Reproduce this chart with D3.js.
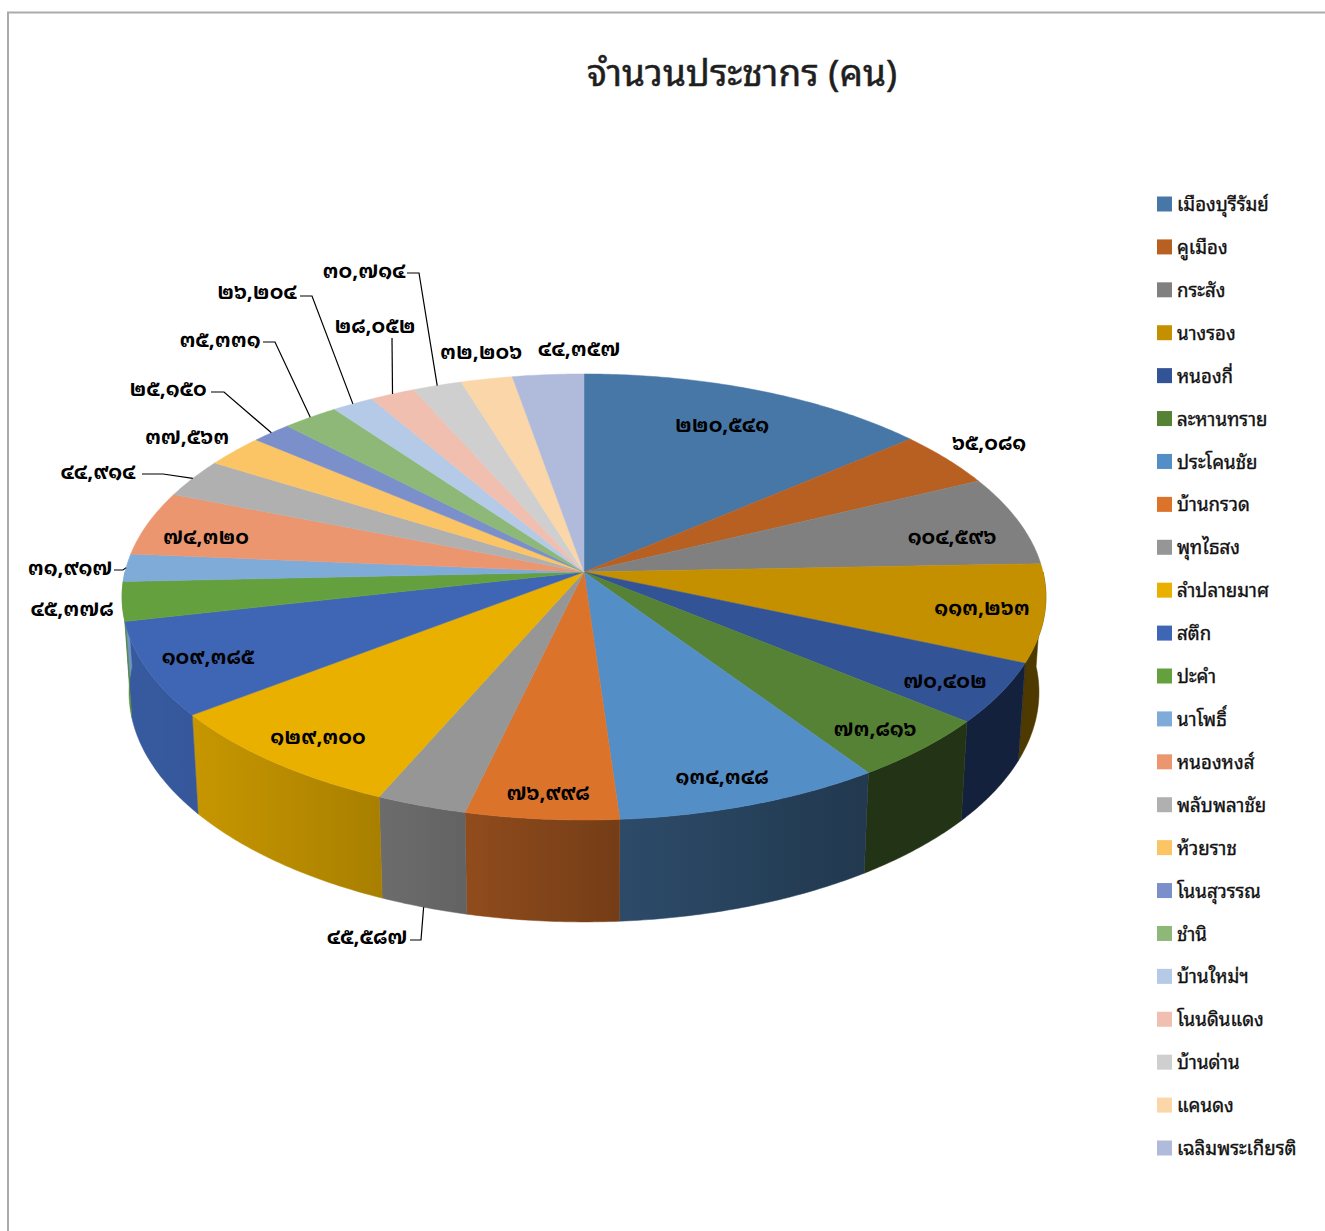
<!DOCTYPE html>
<html>
<head>
<meta charset="utf-8">
<script src="https://cdnjs.cloudflare.com/ajax/libs/d3/7.8.5/d3.min.js"></script>
<style>
  html, body { margin: 0; background: #fff; }
  svg { display: block; }
  text { font-family: "Noto Sans Thai Looped", "Noto Serif Thai", "Loma", "Garuda", "Norasi", "Noto Sans Thai", "Noto Sans", "DejaVu Sans", sans-serif; }
</style>
</head>
<body>
<div class="canvas"></div>
<script>
const title = "จำนวนประชากร (คน)";
const districts = ["เมืองบุรีรัมย์", "คูเมือง", "กระสัง", "นางรอง", "หนองกี่", "ละหานทราย", "ประโคนชัย", "บ้านกรวด", "พุทไธสง", "ลำปลายมาศ", "สตึก", "ปะคำ", "นาโพธิ์", "หนองหงส์", "พลับพลาชัย", "ห้วยราช", "โนนสุวรรณ", "ชำนิ", "บ้านใหม่ฯ", "โนนดินแดง", "บ้านด่าน", "แคนดง", "เฉลิมพระเกียรติ"];
const population = [220541, 65081, 104596, 113263, 70402, 73816, 134348, 76998, 45587, 129300, 109385, 45378, 31917, 74320, 44914, 37563, 25150, 35331, 26204, 28052, 30714, 32206, 44357];
const colors = ["#4677a6", "#b86022", "#808080", "#c49000", "#325396", "#558235", "#548ec6", "#db732b", "#969696", "#e9b000", "#3f66b5", "#65a03f", "#7fabd9", "#ec9670", "#b0b0b0", "#fbc566", "#7b90ca", "#8db877", "#b5cae6", "#f0bfb0", "#cfcfcf", "#fbd6a8", "#b0bbdb"];

const totalWidth = 1325;
const totalHeight = 1231;

// where excel left each data label (center of text)
const labelAt = [[722, 425], [989, 443], [952, 537], [982, 608], [945, 681], [875, 729], [722, 777], [548, 793], [367, 937], [318, 737], [208, 657], [72, 609], [70, 568], [206, 537], [98, 472], [187, 437], [168, 389], [220, 340], [257, 292], [375, 326], [364, 271], [481, 352], [579, 349]];
// leader lines: slice index -> [start x, y, elbow x]
const leaders = {
  8: [410, 940, 421],
  12: [114, 570, 123],
  14: [142, 474, 163],
  16: [211, 392, 224],
  17: [263, 342, 275],
  18: [300, 296, 312],
  19: [392, 338, 392],
  20: [407, 273, 419]
};

// perspective of the disc, fitted on the picture
const cx = 584, cy = 572, radius = 459, squash = 220.2, persp = 0.112;
const floorY = 666.5, floorX = 0.985, floorScaleY = 1.03;

function project(a) {
  const u = Math.sin(a), v = Math.cos(a), d = 1 + persp * v;
  return [radius * u / d, -squash * v / d];
}
const topPoint = a => { const p = project(a); return [cx + p[0], cy + p[1]]; };
const lowPoint = a => { const p = project(a); return [cx + floorX * p[0], floorY + floorScaleY * p[1]]; };
const arcAngles = (a0, a1) => {
  const n = Math.max(2, Math.ceil((a1 - a0) / 0.01));
  return d3.range(n + 1).map(i => a0 + (a1 - a0) * i / n);
};

const shade = d3.scaleLinear()
  .domain([130, 200, 380, 465, 620, 860, 1046])
  .range([0.88, 0.85, 0.72, 0.66, 0.53, 0.40, 0.40])
  .clamp(true);
const thaiDigits = "๐๑๒๓๔๕๖๗๘๙";
const toThai = n => d3.format(",")(n).replace(/\d/g, c => thaiDigits[+c]);

const svg = d3.select(".canvas").append("svg")
  .attr("width", totalWidth)
  .attr("height", totalHeight);

// frame of the pasted chart
svg.append("path")
  .attr("d", `M8,${totalHeight}V12.5H${totalWidth}`)
  .attr("fill", "none")
  .attr("stroke", "#ababab")
  .attr("stroke-width", 2);

svg.append("text")
  .attr("x", 742).attr("y", 86)
  .attr("text-anchor", "middle")
  .attr("font-size", 37)
  .attr("fill", "#1f1f1f")
  .attr("stroke", "#1f1f1f")
  .attr("stroke-width", 0.5)
  .text(title);

const slices = d3.pie().sort(null)(population);
const defs = svg.append("defs");
const line = d3.line();

// side wall, lower half only, top disc covers the rest
const walls = slices
  .map((s, i) => ({ i, a0: Math.max(s.startAngle, Math.PI / 2), a1: Math.min(s.endAngle, 3 * Math.PI / 2) }))
  .filter(d => d.a1 > d.a0);

walls.forEach(d => {
  const x0 = topPoint(d.a0)[0], x1 = topPoint(d.a1)[0];
  const grad = defs.append("linearGradient")
    .attr("id", "wall" + d.i)
    .attr("gradientUnits", "userSpaceOnUse")
    .attr("x1", x0).attr("x2", x1).attr("y1", 0).attr("y2", 0);
  d3.range(9).forEach(k => {
    const x = x0 + (x1 - x0) * k / 8;
    grad.append("stop")
      .attr("offset", k / 8)
      .attr("stop-color", d3.interpolateRgb("#000", colors[d.i])(shade(x)));
  });
  const angles = arcAngles(d.a0, d.a1);
  svg.append("path")
    .attr("d", line(angles.map(topPoint).concat(angles.slice().reverse().map(lowPoint))) + "Z")
    .attr("fill", `url(#wall${d.i})`)
    .attr("stroke", `url(#wall${d.i})`)
    .attr("stroke-width", 0.5);
});

svg.append("g").selectAll("path")
  .data(slices)
  .enter().append("path")
  .attr("d", d => line([[cx, cy]].concat(arcAngles(d.startAngle, d.endAngle).map(topPoint))) + "Z")
  .attr("fill", (d, i) => colors[i])
  .attr("stroke", (d, i) => colors[i])
  .attr("stroke-width", 0.5);

// leader lines
Object.keys(leaders).forEach(k => {
  const i = +k, s = slices[i], mid = (s.startAngle + s.endAngle) / 2;
  const [x0, y0, xe] = leaders[i];
  const end = (mid > Math.PI / 2 && mid < 3 * Math.PI / 2) ? lowPoint(mid) : topPoint(mid);
  svg.append("path")
    .attr("d", line([[x0, y0], [xe, y0], end]))
    .attr("fill", "none")
    .attr("stroke", "#000")
    .attr("stroke-width", 1.2);
});

svg.append("g").selectAll("text")
  .data(population)
  .enter().append("text")
  .attr("x", (d, i) => labelAt[i][0])
  .attr("y", (d, i) => labelAt[i][1])
  .attr("dy", "0.35em")
  .attr("text-anchor", "middle")
  .attr("font-size", 20.4)
  .attr("font-weight", 700)
  .attr("fill", "#000")
  .text(d => toThai(d));

// legend
const legendY = d3.scalePoint().domain(districts).range([204, 1148]);
const legend = svg.append("g").selectAll("g")
  .data(districts)
  .enter().append("g")
  .attr("transform", d => `translate(1157,${legendY(d)})`);
legend.append("rect")
  .attr("y", -7.5)
  .attr("width", 15).attr("height", 15)
  .attr("fill", (d, i) => colors[i]);
legend.append("text")
  .attr("x", 20)
  .attr("dy", "0.38em")
  .attr("font-size", 18.7)
  .attr("fill", "#111")
  .attr("stroke", "#111")
  .attr("stroke-width", 0.35)
  .text(d => d);
</script>
</body>
</html>
